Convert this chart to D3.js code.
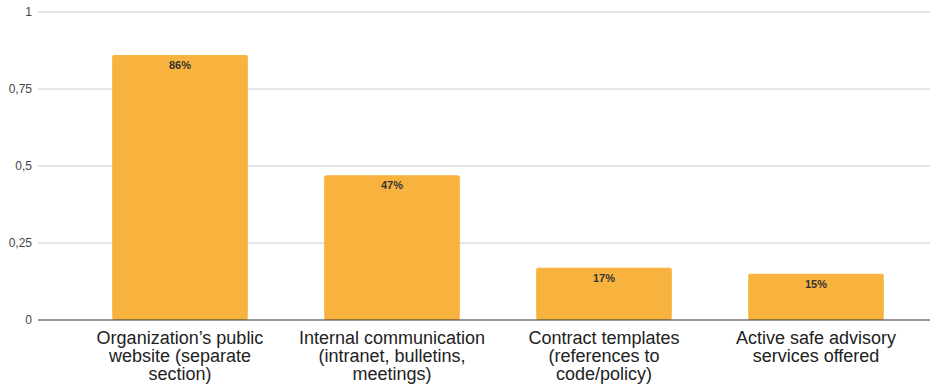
<!DOCTYPE html>
<html>
<head>
<meta charset="utf-8">
<script src="https://cdn.jsdelivr.net/npm/d3@7"></script>
<style>
  html, body { margin: 0; padding: 0; background: #fff; }
  svg { display: block; font-family: "Liberation Sans", Arial, sans-serif; }
</style>
</head>
<body>
<svg id="chart" width="930" height="386"></svg>
<script>
// Share of organizations using each channel
const categories = [
  ["Organization’s public", "website (separate", "section)"],
  ["Internal communication", "(intranet, bulletins,", "meetings)"],
  ["Contract templates", "(references to", "code/policy)"],
  ["Active safe advisory", "services offered"]
];
const values = [0.86, 0.47, 0.17, 0.15];
const valueLabels = ["86%", "47%", "17%", "15%"];
const yTicks = [0, 0.25, 0.5, 0.75, 1];
const yTickLabels = ["0", "0,25", "0,5", "0,75", "1"];

const svg = d3.select("#chart");
const gridLeft = 38, gridRight = 930;
const plotTop = 12, plotBottom = 320;

const x = d3.scaleBand()
  .domain(d3.range(categories.length))
  .range([74, 922])
  .paddingInner(0.36)
  .paddingOuter(0.18);

const y = d3.scaleLinear().domain([0, 1]).range([plotBottom, plotTop]);

// gridlines
svg.append("g").selectAll("line")
  .data(yTicks.filter(t => t !== 0))
  .join("line")
  .attr("x1", gridLeft).attr("x2", gridRight)
  .attr("y1", d => y(d)).attr("y2", d => y(d))
  .attr("stroke", "#cccccc").attr("stroke-width", 1);

// y tick labels
svg.append("g").selectAll("text")
  .data(yTicks)
  .join("text")
  .attr("x", 32)
  .attr("y", d => y(d) + 4)
  .attr("text-anchor", "end")
  .attr("font-size", 12)
  .attr("fill", "#444")
  .text((d, i) => yTickLabels[i]);

// bars
svg.append("g").selectAll("rect")
  .data(values)
  .join("rect")
  .attr("x", (d, i) => x(i))
  .attr("y", d => y(d))
  .attr("width", x.bandwidth())
  .attr("height", d => y(0) - y(d))
  .attr("rx", 2)
  .attr("fill", "#F8B33E");

// value labels
svg.append("g").selectAll("text")
  .data(values)
  .join("text")
  .attr("x", (d, i) => x(i) + x.bandwidth() / 2)
  .attr("y", d => y(d) + 14)
  .attr("text-anchor", "middle")
  .attr("font-size", 11)
  .attr("font-weight", "bold")
  .attr("fill", "#333")
  .text((d, i) => valueLabels[i]);

// baseline
svg.append("line")
  .attr("x1", gridLeft).attr("x2", gridRight)
  .attr("y1", y(0)).attr("y2", y(0))
  .attr("stroke", "#333").attr("stroke-width", 1);

// category labels, wrapped over up to three lines
const cat = svg.append("g").selectAll("text")
  .data(categories)
  .join("text")
  .attr("text-anchor", "middle")
  .attr("font-size", 18)
  .attr("fill", "#222");
cat.each(function(lines, i) {
  const t = d3.select(this);
  lines.forEach((ln, j) => {
    t.append("tspan")
      .attr("x", x(i) + x.bandwidth() / 2)
      .attr("y", 344 + j * 18)
      .text(ln);
  });
});
</script>
</body>
</html>
